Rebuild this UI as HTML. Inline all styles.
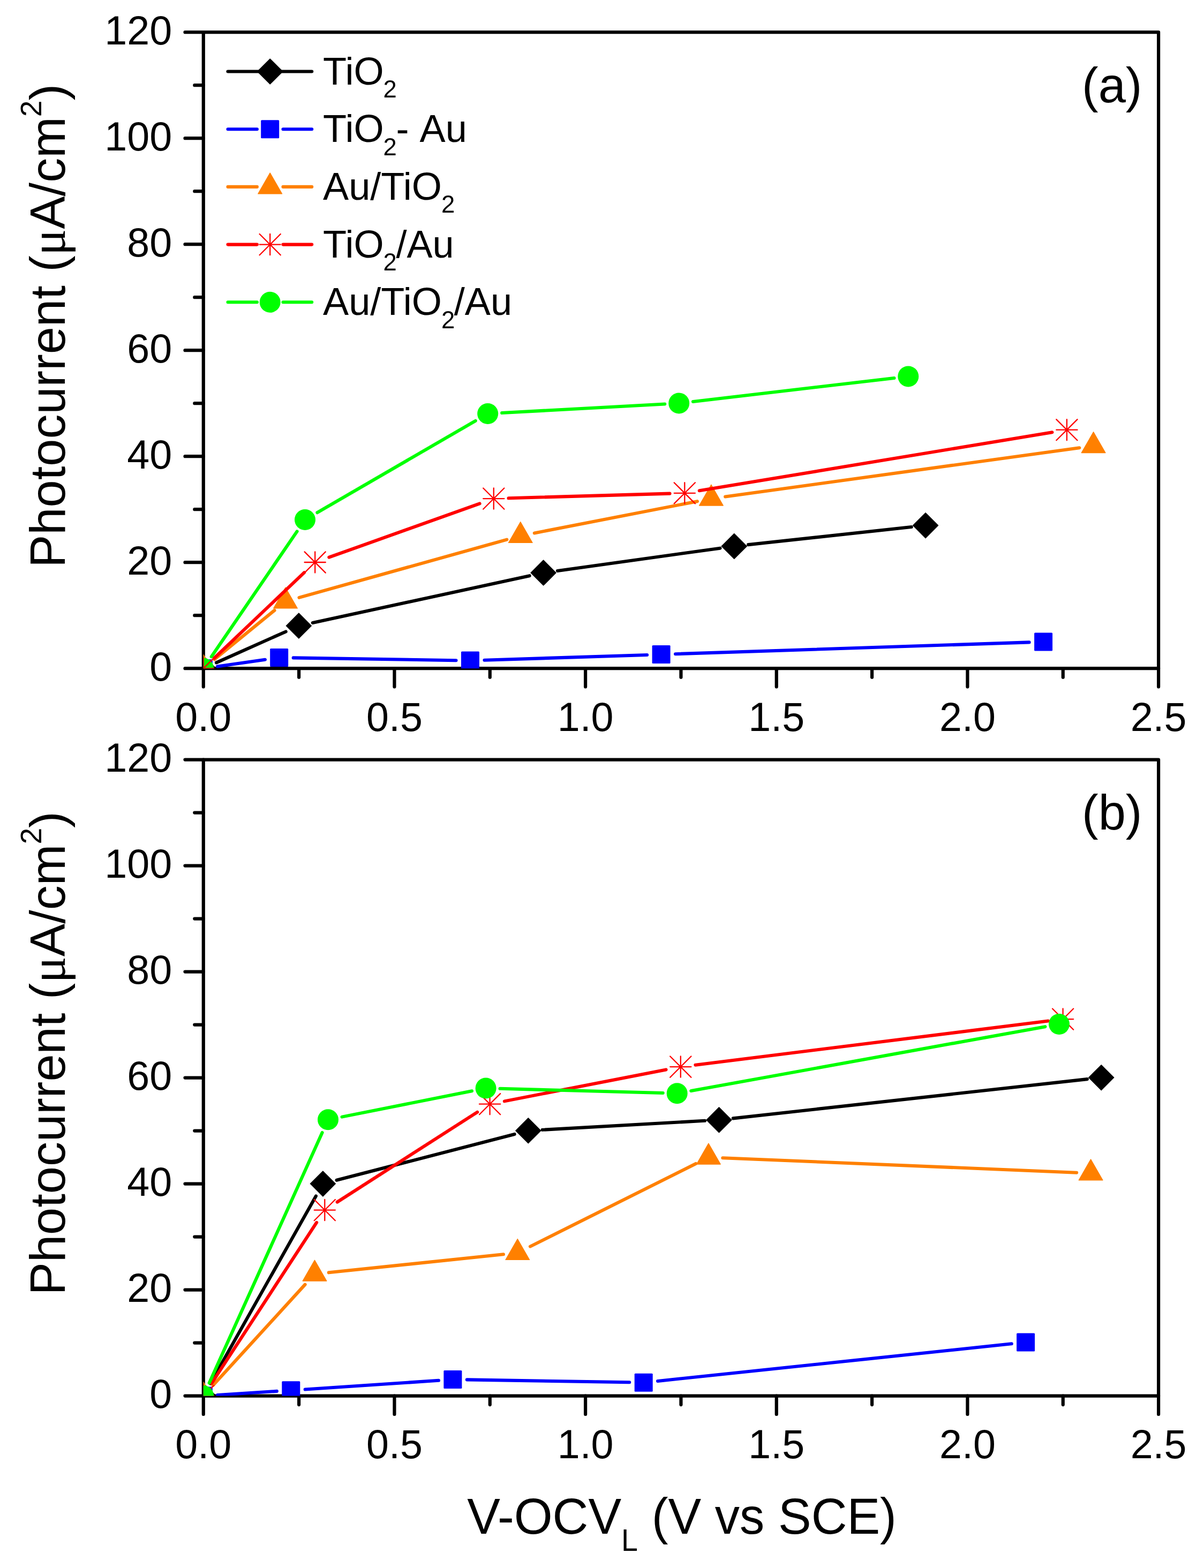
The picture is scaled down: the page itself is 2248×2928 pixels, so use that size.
<!DOCTYPE html>
<html><head><meta charset="utf-8"><title>Photocurrent</title>
<style>html,body{margin:0;padding:0;background:#fff;}svg{display:block;}.tl{font-size:75.5px;}text{font-family:"Liberation Sans",Arial,sans-serif;fill:#000;}</style></head><body>
<svg width="2248" height="2928" viewBox="0 0 2248 2928">
<rect width="2248" height="2928" fill="#fff"/>
<defs>
<clipPath id="ca"><rect x="379.8" y="60.2" width="1783.3" height="1188"/></clipPath>
<clipPath id="cb"><rect x="379.8" y="1418.6" width="1783.3" height="1188"/></clipPath>
</defs>
<path d="M379.8 60.2H2163.1V1248.2H379.8Z" fill="none" stroke="#000" stroke-width="6.2" stroke-linejoin="round"/>
<path d="M345.5 1248.2H379.8M363.3 1149.2H379.8M345.5 1050.2H379.8M363.3 951.2H379.8M345.5 852.2H379.8M363.3 753.2H379.8M345.5 654.2H379.8M363.3 555.2H379.8M345.5 456.2H379.8M363.3 357.2H379.8M345.5 258.2H379.8M363.3 159.2H379.8M345.5 60.2H379.8M379.8 1248.2V1282.5M558.13 1248.2V1264.7M736.46 1248.2V1282.5M914.79 1248.2V1264.7M1093.12 1248.2V1282.5M1271.45 1248.2V1264.7M1449.78 1248.2V1282.5M1628.11 1248.2V1264.7M1806.44 1248.2V1282.5M1984.77 1248.2V1264.7M2163.1 1248.2V1282.5" stroke="#000" stroke-width="6.2" stroke-linecap="round" fill="none"/>
<text transform="translate(321.2 1270.8) scale(1 1.015)" text-anchor="end" class="tl">0</text>
<text transform="translate(321.2 1072.8) scale(1 1.015)" text-anchor="end" class="tl">20</text>
<text transform="translate(321.2 874.8) scale(1 1.015)" text-anchor="end" class="tl">40</text>
<text transform="translate(321.2 676.8) scale(1 1.015)" text-anchor="end" class="tl">60</text>
<text transform="translate(321.2 478.8) scale(1 1.015)" text-anchor="end" class="tl">80</text>
<text transform="translate(321.2 280.8) scale(1 1.015)" text-anchor="end" class="tl">100</text>
<text transform="translate(321.2 82.8) scale(1 1.015)" text-anchor="end" class="tl">120</text>
<text transform="translate(379.8 1364.7) scale(1 1.015)" text-anchor="middle" class="tl">0.0</text>
<text transform="translate(736.46 1364.7) scale(1 1.015)" text-anchor="middle" class="tl">0.5</text>
<text transform="translate(1093.12 1364.7) scale(1 1.015)" text-anchor="middle" class="tl">1.0</text>
<text transform="translate(1449.78 1364.7) scale(1 1.015)" text-anchor="middle" class="tl">1.5</text>
<text transform="translate(1806.44 1364.7) scale(1 1.015)" text-anchor="middle" class="tl">2.0</text>
<text transform="translate(2163.1 1364.7) scale(1 1.015)" text-anchor="middle" class="tl">2.5</text>
<path d="M379.8 1418.6H2163.1V2606.6H379.8Z" fill="none" stroke="#000" stroke-width="6.2" stroke-linejoin="round"/>
<path d="M345.5 2606.6H379.8M363.3 2507.6H379.8M345.5 2408.6H379.8M363.3 2309.6H379.8M345.5 2210.6H379.8M363.3 2111.6H379.8M345.5 2012.6H379.8M363.3 1913.6H379.8M345.5 1814.6H379.8M363.3 1715.6H379.8M345.5 1616.6H379.8M363.3 1517.6H379.8M345.5 1418.6H379.8M379.8 2606.6V2640.9M558.13 2606.6V2623.1M736.46 2606.6V2640.9M914.79 2606.6V2623.1M1093.12 2606.6V2640.9M1271.45 2606.6V2623.1M1449.78 2606.6V2640.9M1628.11 2606.6V2623.1M1806.44 2606.6V2640.9M1984.77 2606.6V2623.1M2163.1 2606.6V2640.9" stroke="#000" stroke-width="6.2" stroke-linecap="round" fill="none"/>
<text transform="translate(321.2 2629.2) scale(1 1.015)" text-anchor="end" class="tl">0</text>
<text transform="translate(321.2 2431.2) scale(1 1.015)" text-anchor="end" class="tl">20</text>
<text transform="translate(321.2 2233.2) scale(1 1.015)" text-anchor="end" class="tl">40</text>
<text transform="translate(321.2 2035.2) scale(1 1.015)" text-anchor="end" class="tl">60</text>
<text transform="translate(321.2 1837.2) scale(1 1.015)" text-anchor="end" class="tl">80</text>
<text transform="translate(321.2 1639.2) scale(1 1.015)" text-anchor="end" class="tl">100</text>
<text transform="translate(321.2 1441.2) scale(1 1.015)" text-anchor="end" class="tl">120</text>
<text transform="translate(379.8 2723.1) scale(1 1.015)" text-anchor="middle" class="tl">0.0</text>
<text transform="translate(736.46 2723.1) scale(1 1.015)" text-anchor="middle" class="tl">0.5</text>
<text transform="translate(1093.12 2723.1) scale(1 1.015)" text-anchor="middle" class="tl">1.0</text>
<text transform="translate(1449.78 2723.1) scale(1 1.015)" text-anchor="middle" class="tl">1.5</text>
<text transform="translate(1806.44 2723.1) scale(1 1.015)" text-anchor="middle" class="tl">2.0</text>
<text transform="translate(2163.1 2723.1) scale(1 1.015)" text-anchor="middle" class="tl">2.5</text>
<g clip-path="url(#ca)">
<path d="M403.99 1237.39L533.71 1179.41M583.8 1162.99L988.7 1075.21M1040.85 1065.95L1344.55 1023.65M1397.15 1017.14L1701.75 984.06" stroke="#000000" stroke-width="6.1" stroke-linecap="round" fill="none"/>
<path d="M379.8 1224.6L403.4 1248.2L379.8 1271.8L356.2 1248.2Z" fill="#000000" stroke="#000000" stroke-width="1.2" stroke-linejoin="round"/>
<path d="M557.9 1145L581.5 1168.6L557.9 1192.2L534.3 1168.6Z" fill="#000000" stroke="#000000" stroke-width="1.2" stroke-linejoin="round"/>
<path d="M1014.6 1046L1038.2 1069.6L1014.6 1093.2L991 1069.6Z" fill="#000000" stroke="#000000" stroke-width="1.2" stroke-linejoin="round"/>
<path d="M1370.8 996.4L1394.4 1020L1370.8 1043.6L1347.2 1020Z" fill="#000000" stroke="#000000" stroke-width="1.2" stroke-linejoin="round"/>
<path d="M1728.1 957.6L1751.7 981.2L1728.1 1004.8L1704.5 981.2Z" fill="#000000" stroke="#000000" stroke-width="1.2" stroke-linejoin="round"/>
<path d="M406.03 1244.45L494.97 1231.75M547.7 1228.42L851.5 1233.18M904.49 1232.75L1208.11 1222.95M1261.09 1221.22L1921.61 1199.38" stroke="#0000ff" stroke-width="6.1" stroke-linecap="round" fill="none"/>
<rect x="362.8" y="1231.2" width="34" height="34" rx="1.5" fill="#0000ff"/>
<rect x="504.2" y="1211" width="34" height="34" rx="1.5" fill="#0000ff"/>
<rect x="861" y="1216.6" width="34" height="34" rx="1.5" fill="#0000ff"/>
<rect x="1217.6" y="1205.1" width="34" height="34" rx="1.5" fill="#0000ff"/>
<rect x="1931.1" y="1181.5" width="34" height="34" rx="1.5" fill="#0000ff"/>
<path d="M400.32 1231.43L512.48 1139.77M558.52 1115.87L946.28 1007.63M997.81 995.43L1301.89 936.17M1354.15 927.48L2015.35 836.22" stroke="#ff8000" stroke-width="6.1" stroke-linecap="round" fill="none"/>
<path d="M379.8 1222.2L402.2 1261.2L357.4 1261.2Z" fill="#ff8000" stroke="#ff8000" stroke-width="1.2" stroke-linejoin="round"/>
<path d="M533 1097L555.4 1136L510.6 1136Z" fill="#ff8000" stroke="#ff8000" stroke-width="1.2" stroke-linejoin="round"/>
<path d="M971.8 974.5L994.2 1013.5L949.4 1013.5Z" fill="#ff8000" stroke="#ff8000" stroke-width="1.2" stroke-linejoin="round"/>
<path d="M1327.9 905.1L1350.3 944.1L1305.5 944.1Z" fill="#ff8000" stroke="#ff8000" stroke-width="1.2" stroke-linejoin="round"/>
<path d="M2041.6 806.6L2064 845.6L2019.2 845.6Z" fill="#ff8000" stroke="#ff8000" stroke-width="1.2" stroke-linejoin="round"/>
<path d="M394.75 1226.32L554.55 992.38M592.42 957.2L887.78 785.8M937.16 771.05L1241.24 754.45M1294.02 749.92L1669.48 705.98" stroke="#00ff00" stroke-width="6.1" stroke-linecap="round" fill="none"/>
<circle cx="379.8" cy="1248.2" r="19.5" fill="#00ff00"/>
<circle cx="569.5" cy="970.5" r="19.5" fill="#00ff00"/>
<circle cx="910.7" cy="772.5" r="19.5" fill="#00ff00"/>
<circle cx="1267.7" cy="753" r="19.5" fill="#00ff00"/>
<circle cx="1695.8" cy="702.9" r="19.5" fill="#00ff00"/>
<path d="M399.94 1229.04L568.06 1069.16M614.39 1040.67L895.61 940.43M949.59 930.3L1250.51 921.6M1305.73 916.26L1964.47 807.24" stroke="#ff0000" stroke-width="6.1" stroke-linecap="round" fill="none"/>
<path d="M379.8 1228.6V1267.8M360.2 1248.2H399.4M360.2 1228.6L399.4 1267.8M360.2 1267.8L399.4 1228.6" stroke="#ff0000" stroke-width="2.3" stroke-linecap="round" fill="none"/>
<path d="M588.2 1030.4V1069.6M568.6 1050H607.8M568.6 1030.4L607.8 1069.6M568.6 1069.6L607.8 1030.4" stroke="#ff0000" stroke-width="2.3" stroke-linecap="round" fill="none"/>
<path d="M921.8 911.5V950.7M902.2 931.1H941.4M902.2 911.5L941.4 950.7M902.2 950.7L941.4 911.5" stroke="#ff0000" stroke-width="2.3" stroke-linecap="round" fill="none"/>
<path d="M1278.3 901.2V940.4M1258.7 920.8H1297.9M1258.7 901.2L1297.9 940.4M1258.7 940.4L1297.9 901.2" stroke="#ff0000" stroke-width="2.3" stroke-linecap="round" fill="none"/>
<path d="M1991.9 783.1V822.3M1972.3 802.7H2011.5M1972.3 783.1L2011.5 822.3M1972.3 822.3L2011.5 783.1" stroke="#ff0000" stroke-width="2.3" stroke-linecap="round" fill="none"/>
</g>
<g clip-path="url(#cb)">
<path d="M392.8 2583.51L589.9 2233.49M628.56 2203.77L960.64 2117.93M1012.76 2109.81L1316.04 2092.79M1368.84 2088.38L2029.86 2015.12" stroke="#000000" stroke-width="6.1" stroke-linecap="round" fill="none"/>
<path d="M379.8 2583L403.4 2606.6L379.8 2630.2L356.2 2606.6Z" fill="#000000" stroke="#000000" stroke-width="1.2" stroke-linejoin="round"/>
<path d="M602.9 2186.8L626.5 2210.4L602.9 2234L579.3 2210.4Z" fill="#000000" stroke="#000000" stroke-width="1.2" stroke-linejoin="round"/>
<path d="M986.3 2087.7L1009.9 2111.3L986.3 2134.9L962.7 2111.3Z" fill="#000000" stroke="#000000" stroke-width="1.2" stroke-linejoin="round"/>
<path d="M1342.5 2067.7L1366.1 2091.3L1342.5 2114.9L1318.9 2091.3Z" fill="#000000" stroke="#000000" stroke-width="1.2" stroke-linejoin="round"/>
<path d="M2056.2 1988.6L2079.8 2012.2L2056.2 2035.8L2032.6 2012.2Z" fill="#000000" stroke="#000000" stroke-width="1.2" stroke-linejoin="round"/>
<path d="M406.25 2604.92L516.85 2597.88M569.74 2594.43L818.96 2577.77M871.9 2576.42L1175.2 2581.28M1228.05 2578.92L1888.75 2509.28" stroke="#0000ff" stroke-width="6.1" stroke-linecap="round" fill="none"/>
<rect x="362.8" y="2589.6" width="34" height="34" rx="1.5" fill="#0000ff"/>
<rect x="526.3" y="2579.2" width="34" height="34" rx="1.5" fill="#0000ff"/>
<rect x="828.4" y="2559" width="34" height="34" rx="1.5" fill="#0000ff"/>
<rect x="1184.7" y="2564.7" width="34" height="34" rx="1.5" fill="#0000ff"/>
<rect x="1898.1" y="2489.5" width="34" height="34" rx="1.5" fill="#0000ff"/>
<path d="M397.67 2587.03L569.63 2398.67M613.86 2376.34L939.94 2342.26M990 2327.64L1299.2 2172.96M1349.38 2162.2L2010.12 2189.7" stroke="#ff8000" stroke-width="6.1" stroke-linecap="round" fill="none"/>
<path d="M379.8 2580.6L402.2 2619.6L357.4 2619.6Z" fill="#ff8000" stroke="#ff8000" stroke-width="1.2" stroke-linejoin="round"/>
<path d="M587.5 2353.1L609.9 2392.1L565.1 2392.1Z" fill="#ff8000" stroke="#ff8000" stroke-width="1.2" stroke-linejoin="round"/>
<path d="M966.3 2313.5L988.7 2352.5L943.9 2352.5Z" fill="#ff8000" stroke="#ff8000" stroke-width="1.2" stroke-linejoin="round"/>
<path d="M1322.9 2135.1L1345.3 2174.1L1300.5 2174.1Z" fill="#ff8000" stroke="#ff8000" stroke-width="1.2" stroke-linejoin="round"/>
<path d="M2036.6 2164.8L2059 2203.8L2014.2 2203.8Z" fill="#ff8000" stroke="#ff8000" stroke-width="1.2" stroke-linejoin="round"/>
<path d="M395 2583.32L591.1 2282.88M629.69 2244.58L891.21 2076.72M941.88 2056.37L1243.52 1997.43M1298.39 1988.66L1957.01 1906.54" stroke="#ff0000" stroke-width="6.1" stroke-linecap="round" fill="none"/>
<path d="M379.8 2587V2626.2M360.2 2606.6H399.4M360.2 2587L399.4 2626.2M360.2 2626.2L399.4 2587" stroke="#ff0000" stroke-width="2.3" stroke-linecap="round" fill="none"/>
<path d="M606.3 2240V2279.2M586.7 2259.6H625.9M586.7 2240L625.9 2279.2M586.7 2279.2L625.9 2240" stroke="#ff0000" stroke-width="2.3" stroke-linecap="round" fill="none"/>
<path d="M914.6 2042.1V2081.3M895 2061.7H934.2M895 2042.1L934.2 2081.3M895 2081.3L934.2 2042.1" stroke="#ff0000" stroke-width="2.3" stroke-linecap="round" fill="none"/>
<path d="M1270.8 1972.5V2011.7M1251.2 1992.1H1290.4M1251.2 1972.5L1290.4 2011.7M1251.2 2011.7L1290.4 1972.5" stroke="#ff0000" stroke-width="2.3" stroke-linecap="round" fill="none"/>
<path d="M1984.6 1883.5V1922.7M1965 1903.1H2004.2M1965 1883.5L2004.2 1922.7M1965 1922.7L2004.2 1883.5" stroke="#ff0000" stroke-width="2.3" stroke-linecap="round" fill="none"/>
<path d="M390.7 2582.44L601.6 2114.96M638.49 2085.62L881.11 2037.28M933.59 2032.81L1237.71 2040.99M1290.28 2036.97L1951.42 1917.13" stroke="#00ff00" stroke-width="6.1" stroke-linecap="round" fill="none"/>
<circle cx="379.8" cy="2606.6" r="19.5" fill="#00ff00"/>
<circle cx="612.5" cy="2090.8" r="19.5" fill="#00ff00"/>
<circle cx="907.1" cy="2032.1" r="19.5" fill="#00ff00"/>
<circle cx="1264.2" cy="2041.7" r="19.5" fill="#00ff00"/>
<circle cx="1977.5" cy="1912.4" r="19.5" fill="#00ff00"/>
</g>
<path d="M425.5 133.5H582.2" stroke="#000000" stroke-width="6.1" stroke-linecap="round" fill="none"/>
<path d="M504.2 109.9L527.8 133.5L504.2 157.1L480.6 133.5Z" fill="#000000" stroke="#000000" stroke-width="1.2" stroke-linejoin="round"/>
<text x="603" y="157.5" style="font-size:72.2px">TiO<tspan dx="-1" dy="24.5" style="font-size:45.49px">2</tspan><tspan dx="-1.5" dy="-24.5"></tspan></text>
<path d="M425.5 241.2H479.9M528.5 241.2H582.2" stroke="#0000ff" stroke-width="6.1" stroke-linecap="round" fill="none"/>
<rect x="487.2" y="224.2" width="34" height="34" rx="1.5" fill="#0000ff"/>
<text x="603" y="265.2" style="font-size:72.2px">TiO<tspan dx="-1" dy="24.5" style="font-size:45.49px">2</tspan><tspan dx="-1.5" dy="-24.5">-<tspan dx="4"> Au</tspan></tspan></text>
<path d="M425.5 348.9H479.9M528.5 348.9H582.2" stroke="#ff8000" stroke-width="6.1" stroke-linecap="round" fill="none"/>
<path d="M504.2 322.9L526.6 361.9L481.8 361.9Z" fill="#ff8000" stroke="#ff8000" stroke-width="1.2" stroke-linejoin="round"/>
<text x="603" y="372.9" style="font-size:72.2px">Au/TiO<tspan dx="-1" dy="24.5" style="font-size:45.49px">2</tspan><tspan dx="-1.5" dy="-24.5"></tspan></text>
<path d="M425.5 456.6H479.9M528.5 456.6H582.2" stroke="#ff0000" stroke-width="6.1" stroke-linecap="round" fill="none"/>
<path d="M504.2 437V476.2M484.6 456.6H523.8M484.6 437L523.8 476.2M484.6 476.2L523.8 437" stroke="#ff0000" stroke-width="2.3" stroke-linecap="round" fill="none"/>
<text x="603" y="480.6" style="font-size:72.2px">TiO<tspan dx="-1" dy="24.5" style="font-size:45.49px">2</tspan><tspan dx="-1.5" dy="-24.5">/Au</tspan></text>
<path d="M425.5 564.3H479.9M528.5 564.3H582.2" stroke="#00ff00" stroke-width="6.1" stroke-linecap="round" fill="none"/>
<circle cx="504.2" cy="564.3" r="19.5" fill="#00ff00"/>
<text x="603" y="588.3" style="font-size:72.2px">Au/TiO<tspan dx="-1" dy="24.5" style="font-size:45.49px">2</tspan><tspan dx="-1.5" dy="-24.5">/Au</tspan></text>
<text x="2020" y="191" style="font-size:92px">(a)</text>
<text x="2020" y="1549.4" style="font-size:92px">(b)</text>
<text transform="translate(121 1060) rotate(-90) scale(1 1.01)" style="font-size:92px">Photocurrent (<tspan style="font-family:'Liberation Serif',serif">&#956;</tspan>A/cm<tspan dy="-44" style="font-size:55.2px">2</tspan><tspan dy="44">)</tspan></text>
<text transform="translate(121 2418.4) rotate(-90) scale(1 1.01)" style="font-size:92px">Photocurrent (<tspan style="font-family:'Liberation Serif',serif">&#956;</tspan>A/cm<tspan dy="-44" style="font-size:55.2px">2</tspan><tspan dy="44">)</tspan></text>
<text transform="translate(872.3 2863.8) scale(1 1.03)" style="font-size:92.5px">V-OCV<tspan dy="31.5" style="font-size:55.5px">L</tspan><tspan dy="-31.5"> (V vs SCE)</tspan></text>
</svg></body></html>
